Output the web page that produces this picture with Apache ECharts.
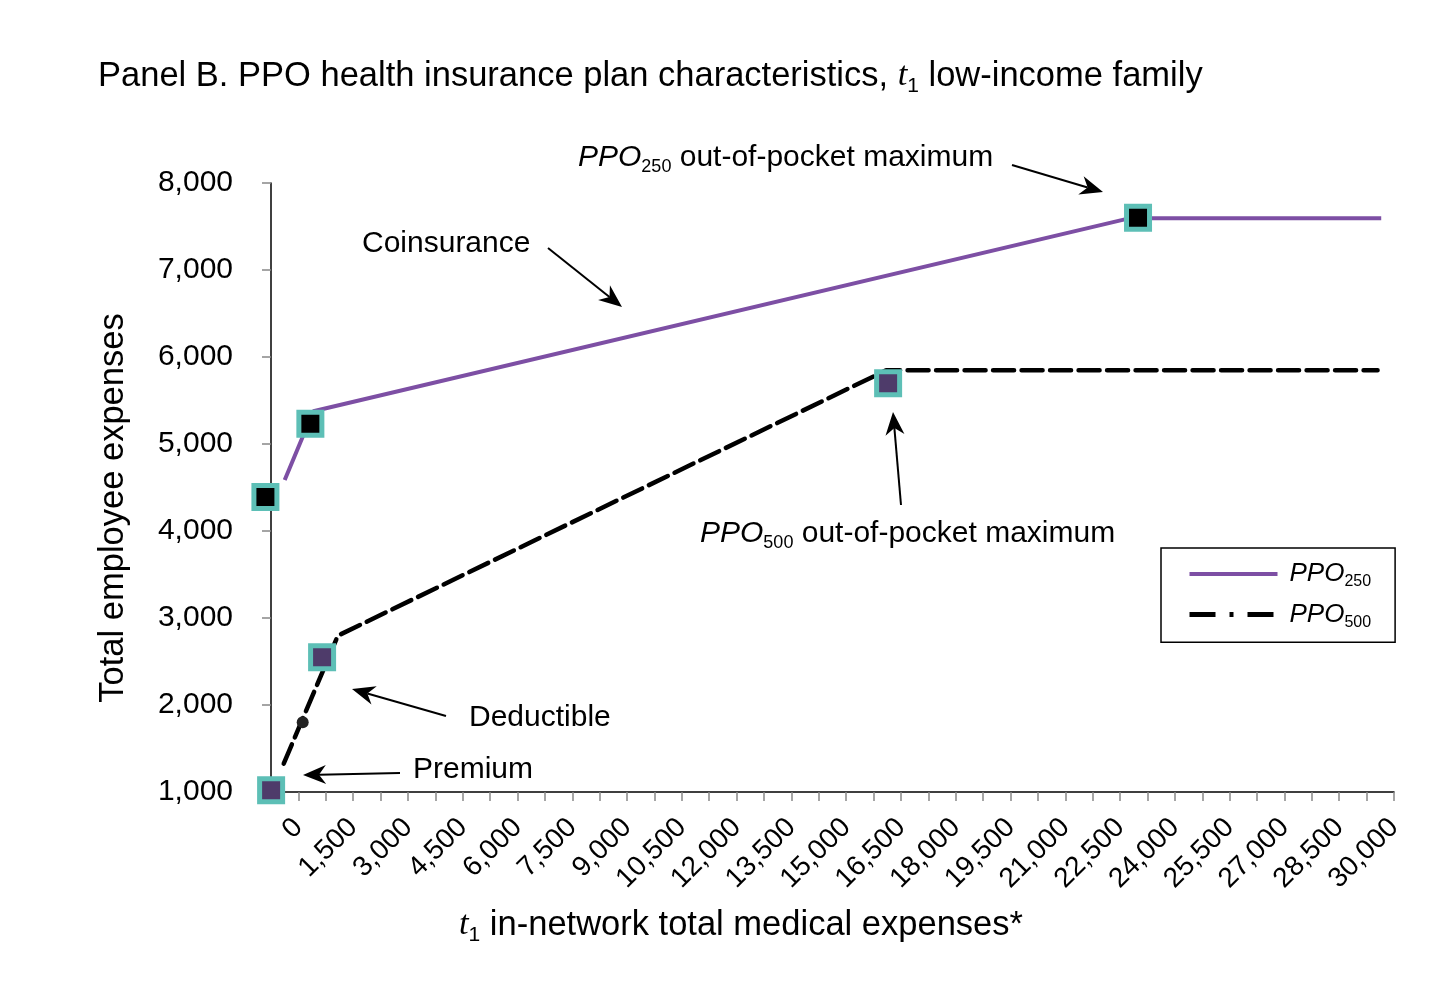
<!DOCTYPE html>
<html>
<head>
<meta charset="utf-8">
<script src="https://cdn.jsdelivr.net/npm/echarts@6/dist/echarts.min.js"></script>
<style>
  html, body { margin: 0; padding: 0; background: #fff; }
  #main { width: 1456px; height: 985px; }
</style>
</head>
<body>
<div id="main"></div>
<script>
// x tick labels (ticks every 750, labels every 1,500)
const xLabels = [0, 1500, 3000, 4500, 6000, 7500, 9000, 10500, 12000, 13500, 15000,
  16500, 18000, 19500, 21000, 22500, 24000, 25500, 27000, 28500, 30000];
const yLabels = [1000, 2000, 3000, 4000, 5000, 6000, 7000, 8000];

// plan lines: [medical expenses, total employee expenses]
const ppo250Line = [[-375, 4586], [410, 5377], [22772, 7596], [29650, 7596]];
const ppo500Line = [[-402, 1326], [1081, 2797], [16094, 5847], [29550, 5847]];

// square markers (premium, deductible, out-of-pocket max)
const ppo250Marks = [[-903, 4391], [328, 5232], [22991, 7602]];
const ppo500Marks = [[-747, 1019], [649, 2548], [16148, 5699]];
const extraDot = [[118, 1803]];

const FONT = "'Liberation Sans', Arial, Helvetica, sans-serif";
const SERIF = "'Liberation Serif', 'Times New Roman', serif";
const TEAL = '#5dbfb6';
const PURPLE = '#7d4fa4';

const chart = echarts.init(document.getElementById('main'));

const subRich = (size) => ({
  n: { fontFamily: FONT, fontSize: size, fill: '#000', color: '#000' },
  i: { fontFamily: FONT, fontSize: size, fontStyle: 'italic', fill: '#000', color: '#000' },
  t: { fontFamily: SERIF, fontSize: size, fontStyle: 'italic', fill: '#000', color: '#000' },
  s: { fontFamily: FONT, fontSize: Math.round(size * 0.6), fill: '#000', color: '#000',
       verticalAlign: 'bottom', lineHeight: size * 1.2 }
});

function label(text, x, y, size) {
  return {
    type: 'text', x: x, y: y, z: 100,
    style: { text: text, rich: subRich(size), fontFamily: FONT, fontSize: size,
             fill: '#000', textVerticalAlign: 'middle' }
  };
}

function arrow(x1, y1, x2, y2) {
  const a = Math.atan2(y2 - y1, x2 - x1);
  const len = 23, half = 9.5, notch = 16;
  const c = Math.cos(a), s = Math.sin(a);
  const back = [x2 - len * c, y2 - len * s];
  const pts = [
    [x2, y2],
    [back[0] + half * s, back[1] - half * c],
    [x2 - notch * c, y2 - notch * s],
    [back[0] - half * s, back[1] + half * c]
  ];
  return [
    { type: 'line', z: 100, shape: { x1: x1, y1: y1, x2: x2 - notch * c, y2: y2 - notch * s },
      style: { stroke: '#000', lineWidth: 2 } },
    { type: 'polygon', z: 100, shape: { points: pts }, style: { fill: '#000' } }
  ];
}

const graphics = [
  label('{n|Panel B. PPO health insurance plan characteristics, }{t|t}{s|1}{n| low-income family}', 98, 76, 34.5),
  label('{t|t}{s|1}{n| in-network total medical expenses*}', 459, 925, 34.5),
  {
    type: 'text', x: 113, y: 508, rotation: Math.PI / 2, z: 100,
    style: { text: 'Total employee expenses', fontFamily: FONT, fontSize: 34.5, fill: '#000',
             textAlign: 'center', textVerticalAlign: 'middle' }
  },
  label('{n|Coinsurance}', 362, 244, 30),
  label('{n|Deductible}', 469, 718, 30),
  label('{n|Premium}', 413, 770, 30),
  label('{i|PPO}{s|250}{n| out-of-pocket maximum}', 578, 158, 30),
  label('{i|PPO}{s|500}{n| out-of-pocket maximum}', 700, 534, 30)
].concat(
  arrow(1012, 165, 1103, 192),
  arrow(548, 248, 622, 307),
  arrow(901, 505, 893, 412),
  arrow(446, 716, 352, 689),
  arrow(400, 773, 303, 775)
);

const option = {
  backgroundColor: '#fff',
  animation: false,
  grid: { left: 271, right: 62, top: 183, bottom: 193 },
  xAxis: {
    type: 'value', min: -750, max: 30000, interval: 750,
    splitLine: { show: false },
    axisLine: { onZero: false, lineStyle: { color: '#000', width: 1.5 } },
    axisTick: { length: 9, lineStyle: { color: '#888', width: 1.5 } },
    axisLabel: {
      rotate: 45, margin: 31, fontSize: 28, fontFamily: FONT, color: '#000',
      formatter: v => xLabels.indexOf(v) >= 0 ? echarts.format.addCommas(v) : ''
    }
  },
  yAxis: {
    type: 'value', min: yLabels[0], max: yLabels[yLabels.length - 1], interval: 1000,
    splitLine: { show: false },
    axisLine: { show: true, onZero: false, lineStyle: { color: '#000', width: 1.5 } },
    axisTick: { show: true, length: 9, lineStyle: { color: '#888', width: 1.5 } },
    axisLabel: { margin: 38, fontSize: 30, fontFamily: FONT, color: '#000',
                 formatter: v => echarts.format.addCommas(v) }
  },
  legend: {
    data: [
      { name: 'PPO250', lineStyle: { width: 4 } },
      { name: 'PPO500', lineStyle: { type: [26, 14, 4, 14], width: 5, cap: 'butt' } }
    ],
    orient: 'vertical', left: 1161, top: 548,
    borderColor: '#000', borderWidth: 1.5, borderRadius: 0,
    padding: [13, 24, 12, 26], itemWidth: 88, itemHeight: 14, itemGap: 12,
    itemStyle: { opacity: 0 },
    formatter: name => '{i|PPO}{s|' + name.slice(3) + '}',
    textStyle: { padding: [0, 0, 0, 7], rich: subRich(26) }
  },
  graphic: graphics,
  series: [
    {
      name: 'PPO250', type: 'line', data: ppo250Line, symbol: 'none', z: 3,
      lineStyle: { color: PURPLE, width: 4 }, itemStyle: { color: PURPLE }
    },
    {
      name: 'PPO500', type: 'line', data: ppo500Line, symbol: 'none', z: 3,
      lineStyle: { color: '#000', width: 4.5, type: [21, 7.5], cap: 'round' },
      itemStyle: { color: '#000' }
    },
    {
      name: 'ppo250 marks', type: 'scatter', data: ppo250Marks, clip: false, z: 5,
      symbol: 'rect', symbolSize: 23,
      itemStyle: { color: '#000', borderColor: TEAL, borderWidth: 5, opacity: 1 }
    },
    {
      name: 'ppo500 marks', type: 'scatter', data: ppo500Marks, clip: false, z: 5,
      symbol: 'rect', symbolSize: 23,
      itemStyle: { color: '#4e3b6a', borderColor: TEAL, borderWidth: 5, opacity: 1 }
    },
    {
      name: 'dot', type: 'scatter', data: extraDot, clip: false, z: 5,
      symbol: 'circle', symbolSize: 12, itemStyle: { color: '#222', opacity: 1 }
    }
  ]
};

chart.setOption(option);
</script>
</body>
</html>
